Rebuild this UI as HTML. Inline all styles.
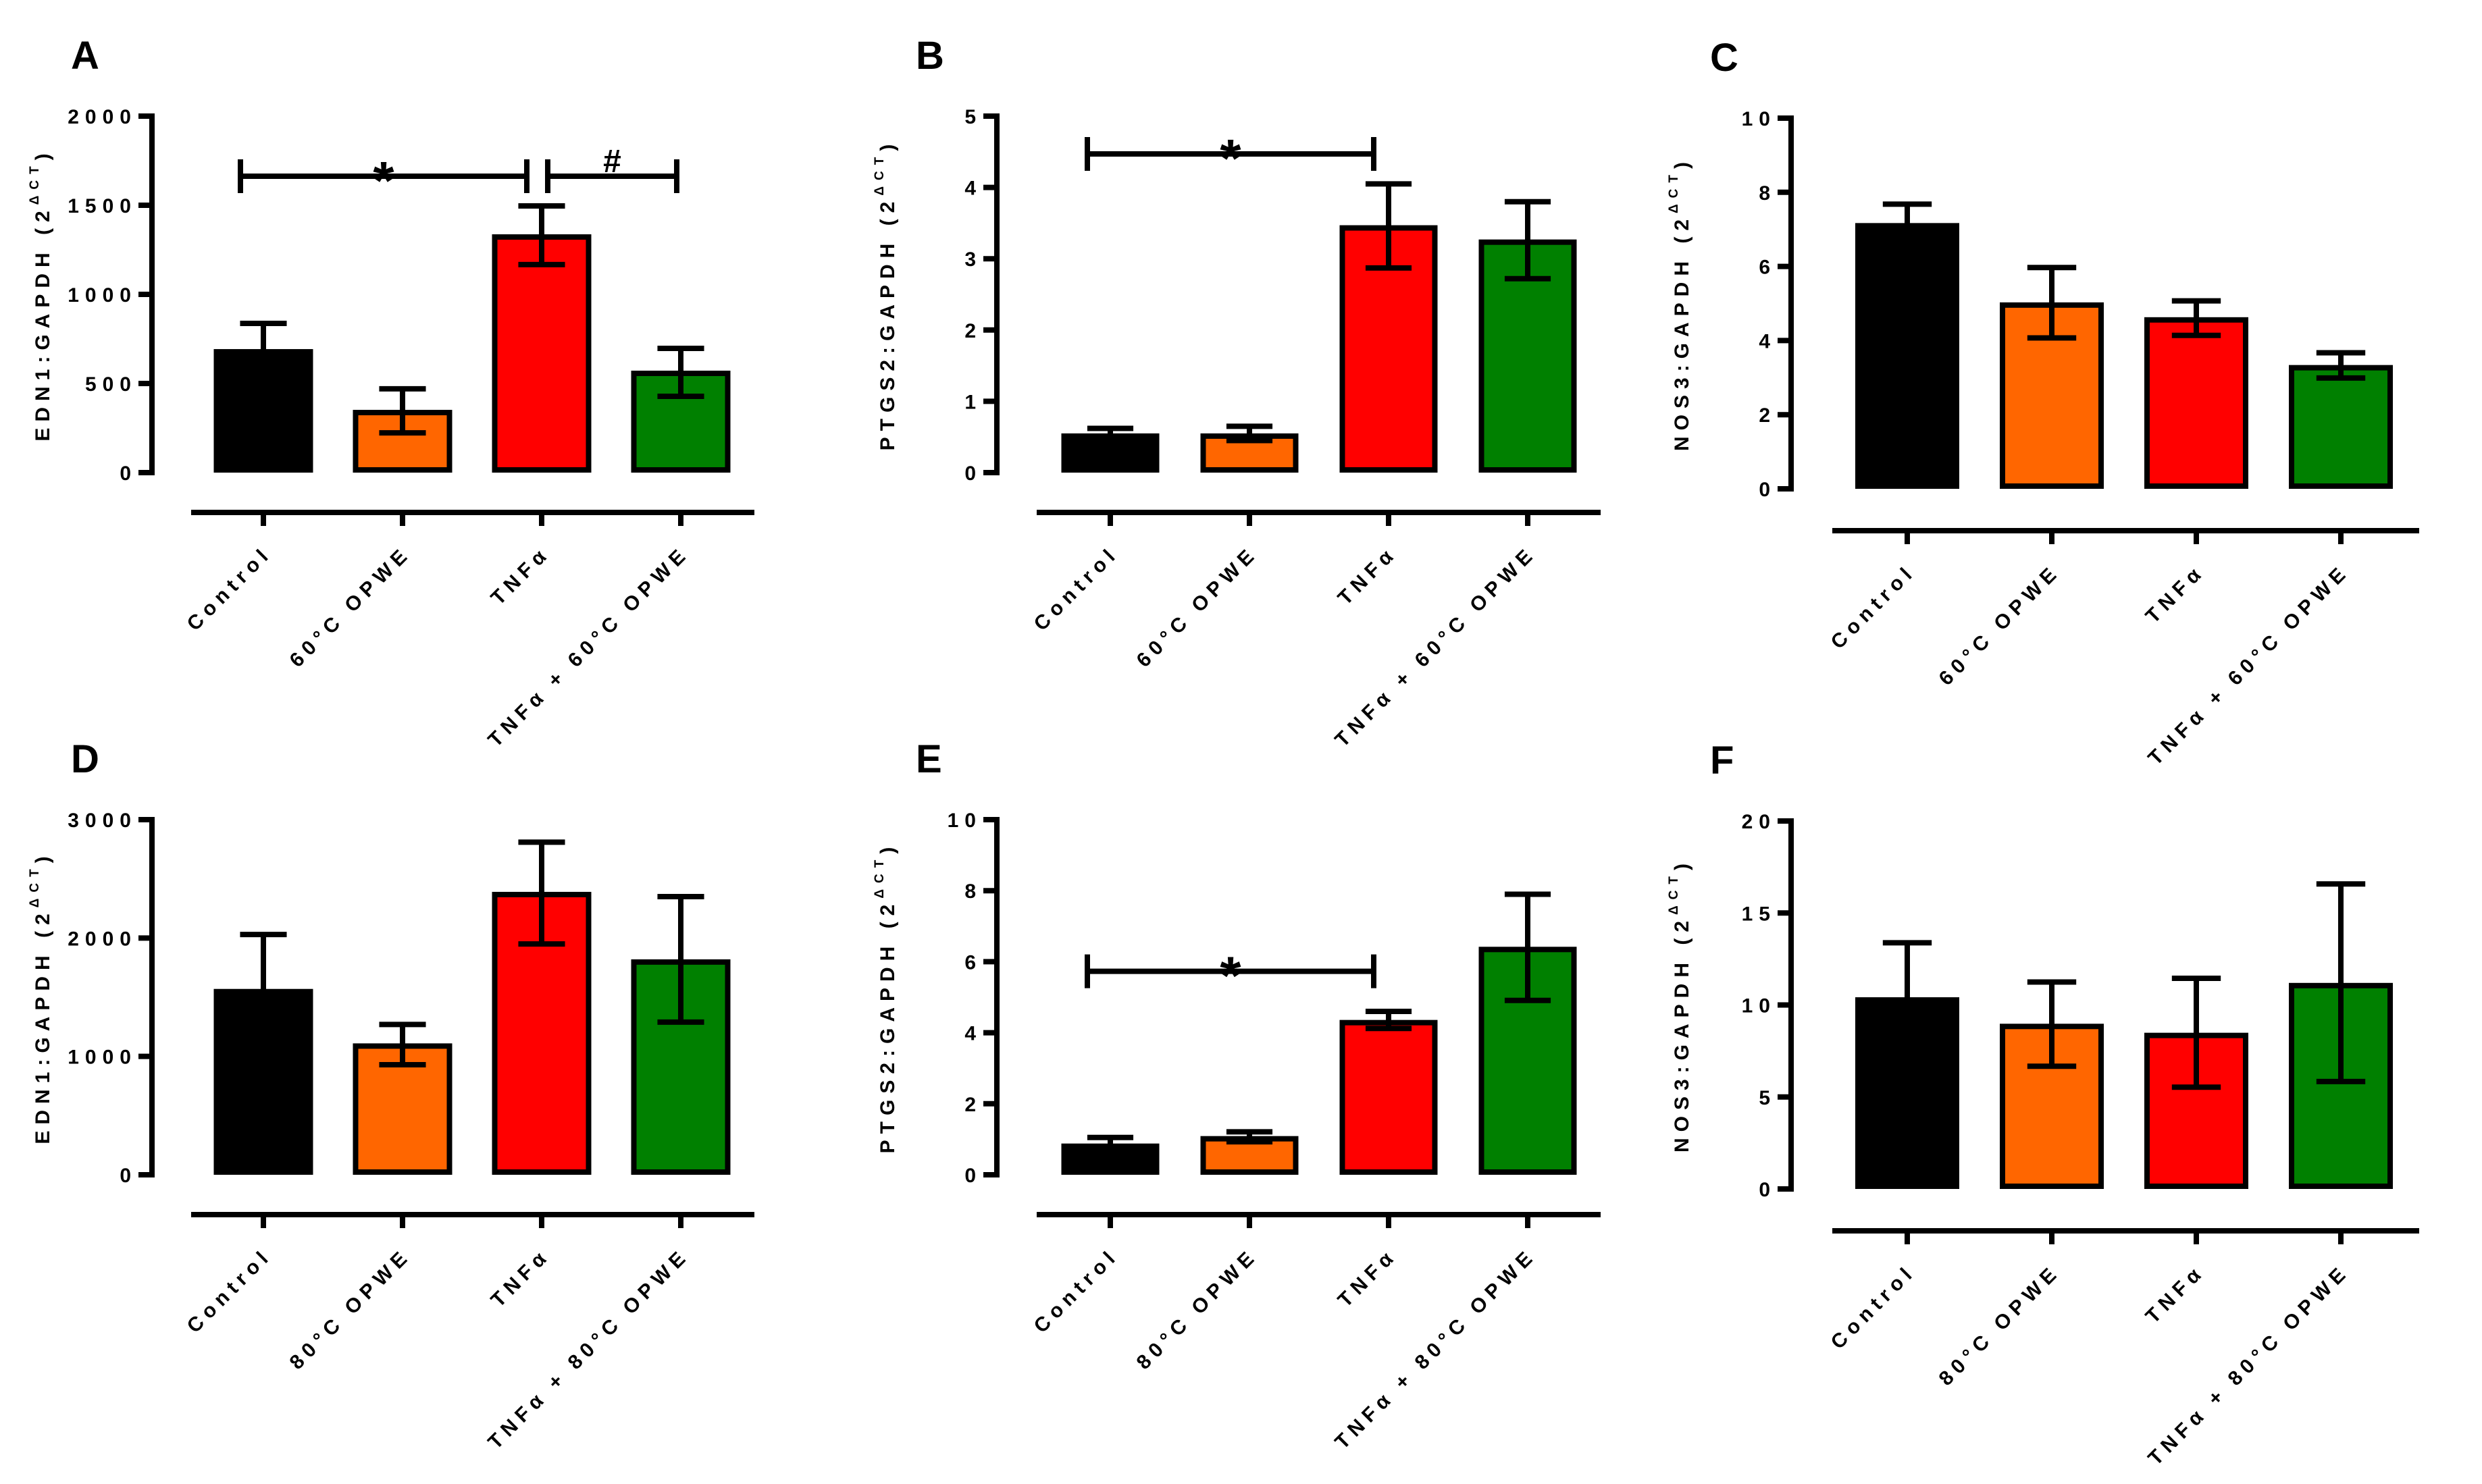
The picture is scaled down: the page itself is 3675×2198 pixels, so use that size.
<!DOCTYPE html>
<html><head><meta charset="utf-8"><style>
html,body{margin:0;padding:0;background:#fff;}
svg{display:block;}
text{font-family:"Liberation Sans",Arial,sans-serif;font-weight:bold;fill:#000;}
</style></head>
<body>
<svg id="fig" xmlns="http://www.w3.org/2000/svg" width="3675" height="2198" viewBox="0 0 3675 2198"></svg>
<script>
// ---- data ----
const categories60 = ["Control", "60°C OPWE", "TNFα", "TNFα + 60°C OPWE"];
const categories80 = ["Control", "80°C OPWE", "TNFα", "TNFα + 80°C OPWE"];
const barColors = ["#000000", "#FF6600", "#FF0000", "#008000"];

const meanA = [693, 352, 1337, 572];
const upperA = [837, 470, 1496, 697];
const lowerA = [560, 223, 1167, 428];
const ticksA = [0, 500, 1000, 1500, 2000];

const meanB = [0.55, 0.55, 3.47, 3.27];
const upperB = [0.62, 0.65, 4.05, 3.8];
const lowerB = [0.48, 0.45, 2.87, 2.72];
const ticksB = [0, 1, 2, 3, 4, 5];

const meanC = [7.17, 5.03, 4.63, 3.34];
const upperC = [7.68, 5.97, 5.07, 3.67];
const lowerC = [6.7, 4.07, 4.14, 2.99];
const ticksC = [0, 2, 4, 6, 8, 10];

const meanD = [1570, 1110, 2390, 1820];
const upperD = [2030, 1270, 2810, 2350];
const lowerD = [1110, 930, 1950, 1290];
const ticksD = [0, 1000, 2000, 3000];

const meanE = [0.88, 1.09, 4.36, 6.42];
const upperE = [1.05, 1.21, 4.6, 7.9];
const lowerE = [0.71, 0.93, 4.12, 4.91];
const ticksE = [0, 2, 4, 6, 8, 10];

const meanF = [10.42, 8.98, 8.49, 11.2];
const upperF = [13.38, 11.25, 11.45, 16.58];
const lowerF = [7.46, 6.67, 5.53, 5.84];
const ticksF = [0, 5, 10, 15, 20];

// significance brackets: [fromIndex, toIndex, value, symbol]
const sigA = [[0, 2, 1663, "*"], [2, 3, 1663, "#"]];
const sigB = [[0, 2, 4.47, "*"]];
const sigE = [[0, 2, 5.73, "*"]];

const NS = "http://www.w3.org/2000/svg";
const svg = document.getElementById("fig");
function mk(tag, attrs, parent) {
  const e = document.createElementNS(NS, tag);
  for (const k in attrs) e.setAttribute(k, attrs[k]);
  (parent || svg).appendChild(e);
  return e;
}

function panel(cfg) {
  const g = mk("g", {});
  
  
  const maxT = cfg.ticks[cfg.ticks.length - 1];
  const yScale = v => cfg.y0 - (v / maxT) * (cfg.y0 - cfg.yTop);
  const xPos = i => cfg.ax + cfg.off + i * cfg.sp;
  const hw = cfg.bw / 2, cap = cfg.bw * 0.235;

  const L = mk("text", {x: cfg.ax - 120, y: cfg.yTop - 70, "font-size": 58}, g);
  L.textContent = cfg.letter;
  
  

  const ya = mk("line", {x1: cfg.ax, y1: cfg.yTop - 4, x2: cfg.ax, y2: cfg.y0 + 4, stroke: "#000", "stroke-width": 8}, g);
  
  
  cfg.ticks.forEach(t => {
    const y = yScale(t);
    const tl = mk("line", {x1: cfg.ax - 20, y1: y, x2: cfg.ax, y2: y, stroke: "#000", "stroke-width": 8}, g);
    
    
    const tx = mk("text", {x: cfg.ax - 22, y: y + 11, "font-size": 30, "text-anchor": "end", "letter-spacing": 9}, g);
    tx.textContent = t;
    
    
  });

  const cy = (cfg.yTop + cfg.y0) / 2;
  const tt = mk("text", {x: 0, y: 0, "font-size": 30, "text-anchor": "middle", "letter-spacing": 9,
    transform: `translate(${cfg.ax - 152},${cy}) rotate(-90)`}, g);
  
  
  const s1 = mk("tspan", {}, tt); s1.textContent = cfg.gene + ":GAPDH (2";
  const s2 = mk("tspan", {"font-size": 19, dy: -16}, tt); s2.textContent = "ΔCT";
  const s3 = mk("tspan", {dy: 16}, tt); s3.textContent = ")";

  cfg.mean.forEach((m, i) => {
    const c = xPos(i);
    const top = yScale(m);
    const r = mk("rect", {x: c - hw + 4, y: top + 4, width: cfg.bw - 8, height: Math.max(0, cfg.y0 - top - 8),
      fill: barColors[i], stroke: "#000", "stroke-width": 8}, g);
    
    
    const eb = mk("path", {d: `M${c},${yScale(cfg.lower[i])} V${yScale(cfg.upper[i])} M${c - cap},${yScale(cfg.upper[i])} H${c + cap} M${c - cap},${yScale(cfg.lower[i])} H${c + cap}`,
      stroke: "#000", "stroke-width": 8, fill: "none"}, g);
    
    
  });

  const xa = mk("line", {x1: cfg.ax + cfg.xs, y1: cfg.xAxisY, x2: cfg.ax + cfg.xe, y2: cfg.xAxisY, stroke: "#000", "stroke-width": 8}, g);
  
  
  cfg.cats.forEach((lab, i) => {
    const c = xPos(i);
    const tk = mk("line", {x1: c, y1: cfg.xAxisY, x2: c, y2: cfg.xAxisY + 20, stroke: "#000", "stroke-width": 8}, g);
    
    
    const tx = mk("text", {x: 0, y: 0, "font-size": 30, "text-anchor": "end", "letter-spacing": 8,
      transform: `translate(${c + 14},${cfg.xAxisY + 62}) rotate(-45)`}, g);
    tx.textContent = lab;
    
    
  });

  (cfg.sig || []).forEach(s => {
    let x1 = xPos(s[0]) - 34, x2 = xPos(s[1]) - 22;
    if (s[0] === 2) { x1 = xPos(s[0]) + 9; x2 = xPos(s[1]) - 6; }
    const y = yScale(s[2]);
    const p = mk("path", {d: `M${x1},${y - 25} V${y + 25} M${x1},${y} H${x2} M${x2},${y - 25} V${y + 25}`,
      stroke: "#000", "stroke-width": 8, fill: "none"}, g);
    
    
    const isStar = s[3] === "*";
    const st = mk("text", {x: (x1 + x2) / 2, y: isStar ? y + 34 : y - 6, "font-size": isStar ? 80 : 48, "text-anchor": "middle"}, g);
    st.textContent = s[3];
    
    
  });
}

const L1 = {ax: 225, off: 165, sp: 206, bw: 147, xs: 58, xe: 892};
const L2 = {ax: 1476, off: 168, sp: 206, bw: 145, xs: 59, xe: 894};
const L3 = {ax: 2652, off: 172, sp: 214, bw: 154, xs: 61, xe: 930};

panel(Object.assign({letter: "A", gene: "EDN1", y0: 700, yTop: 172, xAxisY: 759, ticks: ticksA, mean: meanA, upper: upperA, lower: lowerA, cats: categories60, sig: sigA}, L1));
panel(Object.assign({letter: "B", gene: "PTGS2", y0: 700, yTop: 172, xAxisY: 759, ticks: ticksB, mean: meanB, upper: upperB, lower: lowerB, cats: categories60, sig: sigB}, L2));
panel(Object.assign({letter: "C", gene: "NOS3", y0: 724, yTop: 175, xAxisY: 786, ticks: ticksC, mean: meanC, upper: upperC, lower: lowerC, cats: categories60}, L3));
panel(Object.assign({letter: "D", gene: "EDN1", y0: 1740, yTop: 1214, xAxisY: 1799, ticks: ticksD, mean: meanD, upper: upperD, lower: lowerD, cats: categories80}, L1));
panel(Object.assign({letter: "E", gene: "PTGS2", y0: 1740, yTop: 1214, xAxisY: 1799, ticks: ticksE, mean: meanE, upper: upperE, lower: lowerE, cats: categories80, sig: sigE}, L2));
panel(Object.assign({letter: "F", gene: "NOS3", y0: 1761, yTop: 1216, xAxisY: 1823, ticks: ticksF, mean: meanF, upper: upperF, lower: lowerF, cats: categories80}, L3));
</script>
</body></html>
